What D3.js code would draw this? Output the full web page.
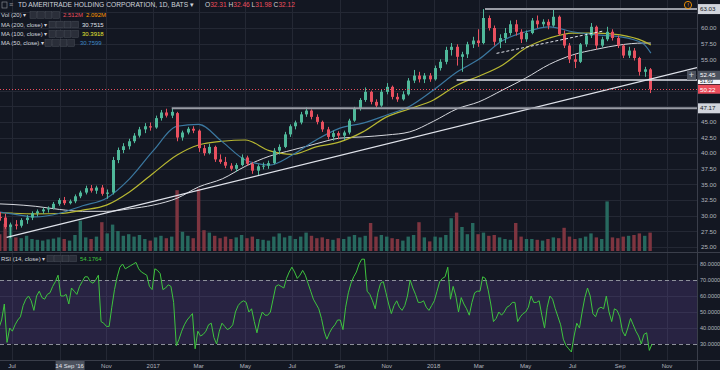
<!DOCTYPE html>
<html>
<head>
<meta charset="utf-8">
<script src="https://cdn.jsdelivr.net/npm/d3@7"></script>
<style>
  body { margin: 0; background: #131722; }
  svg { display: block; font-family: "Liberation Sans", Arial, sans-serif; }
</style>
</head>
<body>
<div id="chart"></div>
<script>
// weekly candles, first week starts Mon 13 Jun 2016
const weekStart = new Date(2016, 5, 13);
const opens = [29.8,29.7,28.2,28.6,28.4,29.3,29.7,30.4,30.7,31.0,31.2,31.9,32.5,32.0,32.3,33.1,33.7,34.4,34.0,34.5,
  33.5,33.7,38.9,40.5,41.1,41.9,42.8,43.8,44.3,44.1,45.6,46.5,46.0,46.4,42.5,43.3,43.9,43.6,40.8,40.0,
  41.0,39.0,38.6,38.0,37.5,38.1,39.3,38.3,37.2,37.9,38.0,38.4,40.4,41.0,43.0,44.3,44.9,46.2,46.8,45.8,
  45.0,43.8,42.6,43.2,42.8,43.3,45.2,47.1,48.5,49.8,48.2,47.6,49.8,50.6,49.0,48.6,49.4,51.6,52.4,51.8,
  52.4,51.8,53.6,54.6,56.5,57.0,55.4,55.8,57.4,58.0,57.6,61.6,60.0,57.8,58.4,59.2,60.6,59.4,58.2,59.2,
  61.2,60.6,61.0,60.4,61.8,59.0,57.2,55.0,54.6,57.4,58.8,60.2,57.2,58.2,59.4,58.4,57.2,55.6,56.4,55.2,
  53.0,53.4];
const highs = [30.6,30.3,28.9,29.3,29.6,30.1,30.7,31.0,31.3,31.5,32.2,32.8,33.0,32.6,33.4,34.0,34.8,34.9,34.8,34.9,
  34.2,39.4,40.9,41.6,42.3,43.2,44.2,44.8,44.9,46.0,46.9,47.1,47.17,46.6,43.6,44.2,44.3,43.8,41.3,41.5,
  41.2,39.8,39.4,38.4,38.4,39.8,39.6,38.6,38.2,38.5,38.8,40.8,41.4,43.4,44.6,45.2,46.6,47.3,47.0,46.2,
  45.2,44.2,43.6,43.5,43.6,45.5,47.4,48.8,50.5,50.0,48.6,50.2,51.2,50.8,49.6,49.9,52.0,53.3,53.0,52.8,
  52.8,54.0,55.0,57.0,57.6,57.4,56.2,57.8,58.6,59.8,63.03,62.0,60.4,59.0,60.0,61.2,61.3,59.8,59.6,61.6,
  62.0,61.4,61.4,62.9,62.0,59.6,57.6,55.8,57.6,59.2,60.8,60.4,58.6,60.2,59.8,58.8,57.4,57.0,56.8,55.4,
  53.8,53.6];
const lows = [29.2,27.9,26.4,27.8,28.1,28.7,29.3,29.9,30.3,30.5,31.0,31.6,31.7,31.8,32.0,32.8,33.4,33.7,33.5,33.2,
  32.7,33.4,38.4,40.0,40.6,41.6,42.5,43.2,43.6,43.9,45.2,45.7,45.6,41.9,42.0,43.0,43.2,40.2,39.6,39.8,
  38.6,38.3,37.6,37.2,37.0,37.9,38.0,36.7,36.4,37.4,37.5,38.2,39.8,40.8,42.6,43.8,44.6,45.8,45.4,44.6,
  43.4,42.2,42.0,42.2,42.1,43.0,45.0,46.8,48.2,47.8,47.3,47.4,49.4,48.6,48.2,48.4,49.2,51.2,51.3,51.2,
  51.4,51.6,53.2,54.2,55.6,54.0,53.0,55.2,56.8,57.0,57.4,59.6,57.2,56.8,57.6,58.8,58.8,57.6,57.8,59.0,
  60.0,60.2,59.8,60.2,58.8,56.8,54.4,53.6,54.4,57.0,58.4,56.6,56.9,57.9,58.0,56.8,55.2,55.2,54.8,52.4,
  52.2,49.6];
const closes = [29.7,28.2,28.6,28.4,29.3,29.7,30.4,30.7,31.0,31.2,31.9,32.5,32.0,32.3,33.1,33.7,34.4,34.0,34.5,33.5,
  33.7,38.9,40.5,41.1,41.9,42.8,43.8,44.3,44.1,45.6,46.5,46.0,46.6,42.5,43.3,43.9,43.6,40.8,40.0,41.0,
  39.0,38.6,38.0,37.5,38.1,39.3,38.3,37.2,37.9,38.0,38.4,40.4,41.0,43.0,44.3,44.9,46.2,46.8,45.8,45.0,
  43.8,42.6,43.2,42.8,43.3,45.2,47.1,48.5,49.8,48.2,47.6,49.8,50.6,49.0,48.6,49.4,51.6,52.4,51.8,52.4,
  51.8,53.6,54.6,56.5,57.0,55.4,55.8,57.4,58.0,57.6,61.6,60.0,57.8,58.4,59.2,60.6,59.4,58.2,59.2,61.2,
  60.6,61.0,60.4,61.8,59.0,57.2,55.0,54.6,57.4,58.8,60.2,57.2,58.2,59.4,58.4,57.2,55.6,56.4,55.2,53.0,
  53.4,50.22];
// volume, millions
const volumes = [4.2,6.8,6.0,3.4,3.2,3.8,3.0,2.8,2.6,2.9,3.1,3.4,3.0,2.6,4.0,7.6,3.4,3.0,3.6,7.2,
  4.4,6.6,5.0,3.8,4.2,3.6,4.0,3.0,2.6,3.4,3.8,3.2,3.6,15.2,4.8,3.8,3.2,15.6,5.2,4.6,
  3.8,3.2,3.6,3.0,3.4,4.0,3.2,3.6,3.0,2.8,2.6,3.6,4.4,3.4,3.8,3.0,3.6,4.6,3.8,3.2,
  3.4,3.0,2.8,3.2,3.0,3.6,4.0,3.4,3.8,7.0,3.6,4.0,3.6,3.2,3.0,2.6,3.6,4.0,7.2,3.4,
  2.4,3.6,3.4,4.0,8.2,9.6,6.0,4.2,7.0,4.2,4.6,3.8,4.0,3.4,3.0,2.8,7.0,3.6,3.0,3.0,
  2.8,2.6,3.0,3.4,3.2,5.8,3.6,3.0,3.2,3.6,4.4,3.4,3.0,12.4,3.4,3.2,3.6,3.8,4.0,4.4,
  3.8,4.6];

// moving averages, read at month starts
const maDates = ["2016-06-13","2016-07-01","2016-08-01","2016-09-01","2016-10-01","2016-11-01","2016-12-01",
  "2017-01-01","2017-02-01","2017-03-01","2017-04-01","2017-05-01","2017-06-01","2017-07-01","2017-08-01",
  "2017-09-01","2017-10-01","2017-11-01","2017-12-01","2018-01-01","2018-02-01","2018-03-01","2018-04-01",
  "2018-05-01","2018-06-01","2018-07-01","2018-08-01","2018-09-01","2018-10-01","2018-10-11"];
const ma50 = [30.6,30.3,29.8,30.4,31.6,32.8,35.9,40.4,44.3,44.6,41.8,38.9,38.1,39.7,42.1,44.0,44.8,46.1,47.5,50.1,
  53.0,55.0,58.0,59.4,60.2,59.4,58.9,58.6,57.5,56.0];
const ma100 = [30.5,30.4,30.3,30.35,30.9,31.7,33.8,36.8,39.7,41.3,41.9,42.1,40.4,39.8,41.0,41.8,43.4,45.8,47.1,48.5,
  50.9,52.3,54.1,56.8,58.4,59.2,59.2,58.9,57.9,57.3];
const ma200 = [31.9,31.8,31.5,31.0,30.7,30.7,31.1,31.7,32.8,34.6,35.9,37.9,39.5,40.5,41.5,42.4,42.6,42.9,43.4,45.1,
  47.1,48.2,50.1,52.0,54.2,55.7,56.6,57.3,57.6,57.6];

// RSI(14), read every half week from 14 Jun 2016
const rsiStart = new Date(2016, 5, 14);
const rsiValues = [40,45,55,31,40,38,42,45,47,54, 58,60,57,51,60,63,59,58,61,62,
  66,69,73,60,60,61,55,65,63,61, 66,69,72,72,69,68,70,73,44,43,
  41,41,53,64,72,78,80,77,78,79, 80,81,77,75,74,73,66,64,77,76,
  74,64,65,67,66,56,29,33,38,42, 45,47,49,27,38,35,36,38,42,43,
  34,30,38,43,41,39,40,42,50,54, 56,57,56,50,52,44,37,45,50,48,
  48,50,58,66,67,66,65,71,75,78, 75,71,73,76,73,68,63,58,55,52,
  46,38,33,37,40,42,45,45,39,53, 62,68,72,75,80,83,83,63,61,57,
  52,62,68,69,62,55,49,54,57,53, 51,54,60,70,65,61,56,56,57,53,
  51,54,57,63,69,71,72,78,58,66, 60,50,59,55,52,48,56,62,63,63,
  72,71,64,55,44,46,50,48,50,53, 54,56,56,44,47,49,50,53,60,56,
  56,57,48,40,53,60,58,52,47,42, 33,29,27,25,35,43,40,50,59,65,
  60,49,47,52,53,52,60,50,44,52, 51,47,38,35,40,46,42,38,35,30,
  36,37,26,30];

// drawings on the chart
const trendLine = [{date: "2016-06-24", price: 26.53}, {date: "2018-06-01", price: 47.87}];
const dashedLine = [{date: "2018-03-24", price: 55.95}, {date: "2018-08-09", price: 59.5}];
const levels = [
  {from: "2018-03-09", price: 63.03, color: "#9a9da6", width: 2},
  {from: "2018-01-31", price: 51.69, color: "#e0e3eb", width: 1.5},
  {from: "2017-01-25", price: 47.17, color: "#9a9da6", width: 2}
];
const lastPrice = 50.22;

const priceTicks = [25,27.5,30,32.5,35,37.5,40,42.5,45,47.5,50,52.5,55,57.5,60,62.5];
const rsiGrid = [80,60,50,40];
const rsiTicks = [80,70,60,50,40,30];
const timeTicks = [["2016-07-01","Jul"],["2016-09-01",""],["2016-11-01","Nov"],["2017-01-01","2017"],
  ["2017-03-01","Mar"],["2017-05-01","May"],["2017-07-01","Jul"],["2017-09-01","Sep"],["2017-11-01","Nov"],
  ["2018-01-01","2018"],["2018-03-01","Mar"],["2018-05-01","May"],["2018-07-01","Jul"],["2018-09-01","Sep"],
  ["2018-11-01","Nov"]];

const W = 720, H = 370, axisX = 697, mainBottom = 252, rsiTop = 253, rsiBottom = 360;
const parse = d3.timeParse("%Y-%m-%d");
const upColor = "#4fb89a", downColor = "#e8505f";
const textColor = "#b2b5be", gridColor = "#242834";

const svg = d3.select("#chart").append("svg").attr("width", W).attr("height", H);
svg.append("rect").attr("width", W).attr("height", H).attr("fill", "#131722");

const x = d3.scaleTime().domain([new Date(2016, 6, 1), new Date(2018, 10, 1)]).range([12, 667]);
const y = d3.scaleLinear().domain([24.2, 64.48]).range([mainBottom, 0]);
const yVol = d3.scaleLinear().domain([0, 16]).range([251, 187]);
const yRsi = d3.scaleLinear().domain([20, 86.25]).range([rsiBottom, rsiTop + 1]);

const defs = svg.append("defs");
defs.append("clipPath").attr("id", "clipMain").append("rect")
  .attr("x", 0).attr("y", 0).attr("width", axisX).attr("height", mainBottom);
defs.append("clipPath").attr("id", "clipRsi").append("rect")
  .attr("x", 0).attr("y", rsiTop).attr("width", axisX).attr("height", rsiBottom - rsiTop);

// grid
const grid = svg.append("g").attr("stroke", gridColor).attr("stroke-width", 1);
timeTicks.forEach(t => {
  const gx = Math.round(x(parse(t[0]))) + 0.5;
  grid.append("line").attr("x1", gx).attr("x2", gx).attr("y1", 0).attr("y2", rsiBottom);
});
priceTicks.forEach(p => {
  const gy = Math.round(y(p)) + 0.5;
  grid.append("line").attr("x1", 0).attr("x2", axisX).attr("y1", gy).attr("y2", gy);
});
rsiGrid.forEach(r => {
  const gy = Math.round(yRsi(r)) + 0.5;
  grid.append("line").attr("x1", 0).attr("x2", axisX).attr("y1", gy).attr("y2", gy);
});

// main pane
const main = svg.append("g").attr("clip-path", "url(#clipMain)");
const weeks = closes.map((c, i) => ({
  date: d3.timeDay.offset(weekStart, 7 * i + 2),
  o: opens[i], h: highs[i], l: lows[i], c: c, v: volumes[i]
}));

// volume
main.append("g").selectAll("rect").data(weeks).join("rect")
  .attr("x", d => x(d.date) - 1.7)
  .attr("width", 3.4)
  .attr("y", d => yVol(d.v))
  .attr("height", d => 251 - yVol(d.v))
  .attr("fill", d => d.c >= d.o ? "#27695f" : "#7e3540");

// moving averages
const maRows = maDates.map((d, i) => ({date: parse(d), a: ma50[i], b: ma100[i], c: ma200[i]}));
const maLine = key => d3.line().x(d => x(d.date)).y(d => y(d[key])).curve(d3.curveMonotoneX)(maRows);
main.append("path").attr("d", maLine("c")).attr("fill", "none").attr("stroke", "#d6d8de").attr("stroke-width", 1);
main.append("path").attr("d", maLine("b")).attr("fill", "none").attr("stroke", "#b8b832").attr("stroke-width", 1.2);
main.append("path").attr("d", maLine("a")).attr("fill", "none").attr("stroke", "#3b78a0").attr("stroke-width", 1.2);

// candles
const candles = main.append("g").selectAll("g").data(weeks).join("g");
candles.append("line")
  .attr("x1", d => Math.round(x(d.date)) + 0.5).attr("x2", d => Math.round(x(d.date)) + 0.5)
  .attr("y1", d => y(d.h)).attr("y2", d => y(d.l))
  .attr("stroke", d => d.c >= d.o ? upColor : downColor);
candles.append("rect")
  .attr("x", d => Math.round(x(d.date)) - 1)
  .attr("width", 3)
  .attr("y", d => y(Math.max(d.o, d.c)))
  .attr("height", d => Math.max(1, Math.abs(y(d.o) - y(d.c))))
  .attr("fill", d => d.c >= d.o ? upColor : downColor);

// drawings
const t0 = [x(parse(trendLine[0].date)), y(trendLine[0].price)];
const t1 = [x(parse(trendLine[1].date)), y(trendLine[1].price)];
const slope = (t1[1] - t0[1]) / (t1[0] - t0[0]);
main.append("line").attr("x1", t0[0]).attr("y1", t0[1])
  .attr("x2", axisX).attr("y2", t0[1] + slope * (axisX - t0[0]))
  .attr("stroke", "#e0e3eb").attr("stroke-width", 1.2);
main.append("line")
  .attr("x1", x(parse(dashedLine[0].date))).attr("y1", y(dashedLine[0].price))
  .attr("x2", x(parse(dashedLine[1].date))).attr("y2", y(dashedLine[1].price))
  .attr("stroke", "#e0e3eb").attr("stroke-width", 1).attr("stroke-dasharray", "3,2");
levels.forEach(l => {
  main.append("line").attr("x1", x(parse(l.from))).attr("x2", axisX)
    .attr("y1", y(l.price)).attr("y2", y(l.price))
    .attr("stroke", l.color).attr("stroke-width", l.width);
});
main.append("line").attr("x1", 0).attr("x2", axisX)
  .attr("y1", Math.round(y(lastPrice)) + 0.5).attr("y2", Math.round(y(lastPrice)) + 0.5)
  .attr("stroke", "#eb4d5c").attr("stroke-dasharray", "1,2");

// rsi pane
const rsiG = svg.append("g").attr("clip-path", "url(#clipRsi)");
rsiG.append("rect").attr("x", 0).attr("width", axisX)
  .attr("y", yRsi(70)).attr("height", yRsi(30) - yRsi(70))
  .attr("fill", "rgba(126,87,194,0.2)");
[70, 30].forEach(r => {
  rsiG.append("line").attr("x1", 0).attr("x2", axisX)
    .attr("y1", Math.round(yRsi(r)) + 0.5).attr("y2", Math.round(yRsi(r)) + 0.5)
    .attr("stroke", "#8d909a").attr("stroke-dasharray", "4,3");
});
const rsiRows = rsiValues.map((v, j) => ({date: d3.timeHour.offset(rsiStart, 84 * j), v: v}));
rsiG.append("path")
  .attr("d", d3.line().x(d => x(d.date)).y(d => yRsi(d.v))(rsiRows))
  .attr("fill", "none").attr("stroke", "#3ec43e").attr("stroke-width", 1);

// pane borders
const borders = svg.append("g").attr("stroke", "#3a3e4a").attr("stroke-width", 1);
borders.append("line").attr("x1", 0).attr("x2", W).attr("y1", mainBottom + 0.5).attr("y2", mainBottom + 0.5);
borders.append("line").attr("x1", 0).attr("x2", W).attr("y1", rsiBottom + 0.5).attr("y2", rsiBottom + 0.5);
borders.append("line").attr("x1", axisX + 0.5).attr("x2", axisX + 0.5).attr("y1", 0).attr("y2", H);

// price axis labels; dy shifts a text inside its box, h is box height
const boxes = [
  {price: 63.03, text: "63.03", bg: "#d1d4dc", fg: "#131722", h: 10, dy: 2.2, size: 6.2},
  {price: 51.69, text: "51.69", bg: "#f0f3fa", fg: "#131722", h: 8, dy: 2.8, size: 5.2},
  {price: 52.45, text: "52.45", bg: "#4c525e", fg: "#ffffff", h: 9, dy: 1.6, size: 6.2},
  {price: lastPrice, text: "50.22", bg: "#eb4d5c", fg: "#ffffff", h: 9, dy: 2.4, size: 6.2},
  {price: 47.17, text: "47.17", bg: "#d1d4dc", fg: "#131722", h: 10, dy: 2.2, size: 6.2}
];
const axisText = svg.append("g").attr("font-size", 6.2).attr("fill", textColor);
priceTicks.forEach(p => {
  if (boxes.some(b => Math.abs(y(b.price) - y(p)) < 7)) return;
  axisText.append("text").attr("x", 701).attr("y", y(p) + 2.2).text(d3.format(".2f")(p));
});
boxes.forEach(b => {
  const by = y(b.price);
  svg.append("rect").attr("x", axisX + 1).attr("y", by - b.h / 2).attr("width", W - axisX - 1).attr("height", b.h)
    .attr("fill", b.bg);
  svg.append("text").attr("x", 700).attr("y", by + b.dy).attr("font-size", b.size).attr("fill", b.fg).text(b.text);
});
// crosshair "+" button
svg.append("rect").attr("x", 687).attr("y", y(52.45) - 4.5).attr("width", 9).attr("height", 9)
  .attr("fill", "#4c525e");
svg.append("text").attr("x", 691.5).attr("y", y(52.45) + 3).attr("text-anchor", "middle")
  .attr("font-size", 9).attr("fill", "#d1d4dc").text("+");

// rsi axis labels
rsiTicks.forEach(r => {
  axisText.append("text").attr("x", 700).attr("y", yRsi(r) + 2).attr("font-size", 5.6).text(d3.format(".4f")(r));
});

// time axis
const timeText = svg.append("g").attr("font-size", 6).attr("fill", textColor).attr("text-anchor", "middle");
timeTicks.forEach(t => {
  if (t[1]) timeText.append("text").attr("x", x(parse(t[0]))).attr("y", 368).text(t[1]);
});
const crossX = x(new Date(2016, 8, 14));
svg.append("rect").attr("x", crossX - 14).attr("y", 361).attr("width", 29).attr("height", 9).attr("fill", "#4c525e");
svg.append("text").attr("x", crossX).attr("y", 368).attr("text-anchor", "middle")
  .attr("font-size", 6).attr("fill", "#e0e3eb").text("14 Sep '16");

// alert icon
svg.append("circle").attr("cx", 688).attr("cy", 5).attr("r", 3.6).attr("fill", "none")
  .attr("stroke", "#ff9800").attr("stroke-width", 0.9);
svg.append("text").attr("x", 688).attr("y", 7.3).attr("text-anchor", "middle").attr("font-size", 6)
  .attr("fill", "#ff9800").text("!");

// legends
const legend = svg.append("g").attr("font-size", 6).attr("fill", "#d1d4dc");
function iconBoxes(x0, cy) {
  for (let k = 0; k < 4; k++) {
    legend.append("rect").attr("x", x0 + k * 7.6).attr("y", cy - 3.3).attr("width", 6.6).attr("height", 6.6)
      .attr("fill", "#2a2e39").attr("stroke", "#4a4e59").attr("stroke-width", 0.5);
  }
}
legend.append("rect").attr("x", 2).attr("y", 2).attr("width", 5).attr("height", 6).attr("fill", "none")
  .attr("stroke", "#9598a1").attr("stroke-width", 0.6);
legend.append("text").attr("x", 9).attr("y", 7.4).attr("font-size", 7).attr("fill", "#9598a1").text("≡");
legend.append("text").attr("x", 18).attr("y", 7.4).attr("font-size", 6.6)
  .attr("textLength", 176).attr("lengthAdjust", "spacingAndGlyphs")
  .text("TD AMERITRADE HOLDING CORPORATION, 1D, BATS \u25BE");
const ohlc = legend.append("text").attr("x", 205).attr("y", 7.4).attr("font-size", 6.6);
[["O", "32.31"], ["H", "32.46"], ["L", "31.98"], ["C", "32.12"]].forEach(p => {
  ohlc.append("tspan").attr("fill", "#d1d4dc").text(p[0]);
  ohlc.append("tspan").attr("fill", "#eb4d5c").text(p[1] + " ");
});

const rows = [
  {y: 15, label: "Vol (20) \u25BE", box: 30, vals: [["2.512M", "#eb4d5c", 63], ["2.092M", "#ff9800", 86]]},
  {y: 24.5, label: "MA (200, close) \u25BE", box: 49, vals: [["30.7515", "#e0e3eb", 82]]},
  {y: 34, label: "MA (100, close) \u25BE", box: 49, vals: [["30.3918", "#e6e632", 82]]},
  {y: 43, label: "MA (50, close) \u25BE", box: 45, vals: [["30.7599", "#3d86c2", 80]]},
  {y: 258.5, label: "RSI (14, close) \u25BE", box: 47, vals: [["54.1764", "#3ec43e", 80]]}
];
rows.forEach(r => {
  legend.append("text").attr("x", 1).attr("y", r.y + 2).text(r.label);
  iconBoxes(r.box, r.y);
  r.vals.forEach(v => {
    legend.append("text").attr("x", v[2]).attr("y", r.y + 2).attr("fill", v[1]).text(v[0]);
  });
});
</script>
</body>
</html>
